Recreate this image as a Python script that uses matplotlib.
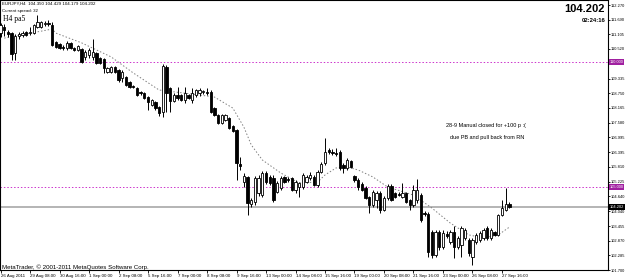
import matplotlib.pyplot as plt

# EURJPY H4 candles, bar 0 = 26 Aug 2011 00:00, last bar = 28 Sep 00:00
opens = [111.15, 111.39, 111.19, 111.15, 110.36, 111.03, 111.07, 111.19, 111.15, 111.15,
         111.39, 111.39, 111.51, 111.55, 111.47, 110.80, 110.72, 110.60, 110.56, 110.76,
         110.56, 110.48, 110.52, 110.20, 110.28, 110.20, 110.36, 110.16, 110.12, 109.60,
         109.60, 109.80, 109.68, 109.36, 109.40, 109.20, 109.04, 108.96, 108.80, 108.76,
         108.60, 108.28, 108.40, 108.20, 108.00, 109.80, 108.96, 108.44, 108.68, 108.68,
         108.48, 108.68, 108.48, 108.68, 108.76, 108.80, 108.80, 108.80, 108.16, 107.88,
         107.56, 107.68, 107.76, 107.44, 107.28, 105.93, 105.21, 105.41, 104.33, 104.41,
         104.77, 104.69, 105.57, 105.41, 105.37, 104.81, 104.97, 105.41, 105.33, 105.37,
         104.89, 105.01, 105.01, 105.21, 105.37, 105.41, 105.09, 105.61, 105.97, 106.49,
         106.41, 106.37, 106.41, 105.89, 105.77, 106.05, 105.45, 105.29, 105.13, 104.97,
         104.61, 104.29, 104.49, 104.77, 104.09, 104.57, 105.05, 104.77, 104.73, 104.61,
         104.77, 104.49, 104.29, 104.49, 104.69, 103.97, 103.93, 103.22, 102.30, 103.22,
         102.62, 103.14, 102.82, 103.22, 102.62, 102.70, 102.98, 102.90, 102.22, 102.82,
         102.90, 102.98, 103.37, 102.98, 103.22, 103.10, 103.89, 104.09, 104.350]
highs = [111.55, 111.51, 111.27, 111.19, 111.11, 111.19, 111.23, 111.23, 111.39, 111.51,
         111.87, 111.63, 111.63, 111.67, 111.59, 110.83, 110.76, 110.68, 110.83, 110.80,
         110.60, 110.68, 110.56, 110.48, 110.56, 110.91, 110.40, 110.20, 110.16, 109.80,
         109.84, 109.84, 109.72, 109.68, 109.44, 109.24, 109.08, 109.00, 108.84, 108.80,
         108.64, 108.52, 108.44, 108.24, 109.92, 109.88, 109.00, 108.76, 109.00, 108.72,
         109.00, 108.72, 108.96, 108.92, 108.96, 108.88, 108.96, 108.88, 108.20, 107.92,
         107.92, 107.92, 107.80, 107.48, 107.32, 106.21, 105.57, 105.45, 104.57, 105.45,
         105.49, 105.65, 105.65, 105.49, 105.49, 105.25, 105.45, 105.45, 105.41, 105.41,
         105.29, 105.21, 105.57, 105.49, 105.61, 105.49, 105.69, 106.01, 106.97, 106.57,
         106.53, 106.57, 106.49, 105.97, 106.17, 106.09, 105.49, 105.37, 105.21, 105.05,
         104.65, 104.89, 104.85, 104.85, 104.65, 105.13, 105.13, 104.81, 104.81, 105.17,
         104.81, 104.53, 105.09, 105.33, 104.77, 104.05, 104.01, 103.29, 103.29, 103.29,
         103.29, 103.25, 103.29, 103.45, 103.06, 103.45, 103.37, 102.98, 102.98, 103.18,
         103.25, 103.37, 103.45, 103.37, 103.25, 103.93, 104.49, 104.97, 104.429]
lows = [110.99, 111.03, 110.99, 110.08, 110.08, 110.91, 110.99, 111.03, 111.07, 111.11,
        111.35, 111.35, 111.43, 111.43, 110.64, 110.56, 110.52, 110.48, 110.48, 110.52,
        110.44, 110.44, 109.96, 110.08, 110.16, 110.08, 109.92, 109.92, 109.56, 109.56,
        109.56, 109.56, 109.20, 109.20, 109.04, 108.96, 108.96, 108.64, 108.68, 108.52,
        108.08, 108.24, 108.08, 107.84, 107.80, 108.00, 108.00, 108.40, 108.48, 108.44,
        108.36, 108.52, 108.36, 108.60, 108.64, 108.72, 108.68, 107.96, 107.84, 107.52,
        107.52, 107.64, 107.32, 107.20, 105.29, 105.69, 105.01, 103.89, 104.21, 104.29,
        104.65, 104.61, 105.13, 105.09, 104.41, 104.77, 104.89, 105.17, 105.21, 104.85,
        104.77, 104.61, 104.93, 105.17, 105.29, 105.05, 105.01, 105.57, 105.89, 106.33,
        106.29, 106.25, 105.69, 105.57, 105.69, 105.77, 105.21, 104.89, 104.85, 104.53,
        103.97, 104.21, 104.17, 103.97, 104.05, 104.49, 104.45, 104.57, 104.65, 104.57,
        104.37, 104.09, 104.21, 104.37, 103.61, 103.85, 102.22, 102.18, 102.22, 102.50,
        102.54, 102.98, 102.74, 102.18, 102.54, 102.22, 102.90, 102.26, 101.90, 102.74,
        102.82, 102.90, 102.90, 102.90, 103.06, 103.06, 103.85, 104.05, 104.179]
closes = [111.47, 111.27, 111.11, 110.32, 111.03, 111.11, 111.15, 111.07, 111.19, 111.47,
          111.59, 111.59, 111.55, 111.51, 110.68, 110.60, 110.56, 110.56, 110.76, 110.56,
          110.48, 110.64, 110.00, 110.40, 110.48, 110.40, 109.96, 109.96, 109.76, 109.76,
          109.80, 109.60, 109.28, 109.60, 109.08, 109.00, 109.00, 108.68, 108.76, 108.56,
          108.40, 108.48, 108.16, 107.96, 109.84, 108.76, 108.44, 108.68, 108.56, 108.48,
          108.76, 108.56, 108.76, 108.88, 108.88, 108.84, 108.78, 108.00, 107.88, 107.56,
          107.88, 107.88, 107.36, 107.24, 105.97, 105.85, 105.45, 104.37, 104.49, 105.37,
          105.37, 105.57, 105.21, 105.17, 104.49, 105.17, 105.37, 105.21, 105.29, 104.89,
          105.21, 105.17, 105.49, 105.41, 105.49, 105.09, 105.61, 105.93, 106.41, 106.41,
          106.37, 106.33, 105.77, 105.77, 106.09, 105.81, 105.29, 105.01, 104.89, 104.57,
          104.29, 104.81, 104.77, 104.09, 104.57, 105.05, 104.49, 104.61, 104.69, 104.77,
          104.41, 104.29, 104.89, 104.89, 103.69, 103.93, 102.42, 102.30, 103.22, 102.62,
          103.18, 103.06, 103.22, 102.62, 102.98, 103.37, 103.29, 102.38, 102.90, 103.10,
          103.18, 103.29, 102.98, 103.29, 103.10, 103.89, 104.17, 104.33, 104.202]

# moving average (dotted), read at some bars
ma_bars = [1, 14, 15, 22, 30, 36, 43, 54, 58, 63, 66, 68, 71, 76, 81, 86, 88, 91, 94,
           97, 101, 105, 112, 117, 122, 127, 131, 135, 138]
ma_vals = [110.95, 111.31, 111.15, 110.76, 110.20, 109.56, 108.88, 108.68, 108.60, 108.16,
           107.40, 106.69, 106.09, 105.57, 105.17, 105.21, 105.49, 105.77, 105.81, 105.69,
           105.41, 105.01, 104.69, 104.17, 103.57, 103.10, 102.98, 103.10, 103.41]

time_ticks = list(range(0, 137, 8))
time_labels = ['26 Aug 2011', '29 Aug 08:00', '30 Aug 16:00', '1 Sep 00:00', '2 Sep 08:00',
               '5 Sep 16:00', '7 Sep 00:00', '8 Sep 08:00', '9 Sep 16:00', '13 Sep 00:00',
               '14 Sep 08:00', '15 Sep 16:00', '19 Sep 00:00', '20 Sep 08:00', '21 Sep 16:00',
               '23 Sep 00:00', '26 Sep 08:00', '27 Sep 16:00']
# 109.935 sits under the 110.000 box, so it is left out
price_ticks = [101.700, 102.285, 102.870, 103.455, 104.040, 104.640, 105.225, 105.810,
               106.395, 106.995, 107.580, 108.165, 108.750, 109.335, 110.520,
               111.105, 111.690, 112.270]
round_levels = [110.000, 105.000]
bid = 104.202

plt.rcParams['font.family'] = ['Liberation Sans', 'DejaVu Sans']

fig = plt.figure(figsize=(6.25, 2.79), dpi=100)
ax = fig.add_axes([0, 9 / 279, 608 / 625, 270 / 279])

x = list(range(len(closes)))
ax.vlines(x, lows, highs, color='black', lw=0.7, zorder=3)
bottoms = [min(o, c) for o, c in zip(opens, closes)]
heights = [max(abs(c - o), 0.015) for o, c in zip(opens, closes)]
colors = ['white' if c >= o else 'black' for o, c in zip(opens, closes)]
ax.bar(x, heights, bottom=bottoms, width=0.62, color=colors, edgecolor='black',
       linewidth=0.6, zorder=4)

ax.plot(ma_bars, ma_vals, color='#808080', linestyle=(0, (1.5, 2)), lw=0.7, zorder=2)

for lvl in round_levels:
    ax.axhline(lvl, color='#cc33cc', linestyle=(0, (1.5, 2)), lw=0.7, zorder=1)
    ax.annotate(f'{lvl:.3f}', xy=(1, lvl), xycoords=('axes fraction', 'data'),
                xytext=(1.2, 0), textcoords='offset points', ha='left', va='center',
                fontsize=2.9, color='white', annotation_clip=False, zorder=10,
                bbox=dict(boxstyle='square,pad=0.2', fc='#a020a0', ec='none'))
ax.axhline(bid, color='#a8a8a8', lw=1.2, zorder=1)
ax.annotate(f'{bid:.3f}', xy=(1, bid), xycoords=('axes fraction', 'data'),
            xytext=(1.2, 0), textcoords='offset points', ha='left', va='center',
            fontsize=2.9, color='white', annotation_clip=False, zorder=10,
            bbox=dict(boxstyle='square,pad=0.2', fc='black', ec='none'))

ax.set_xlim(-0.14, 164.75)
ax.set_ylim(101.70, 112.47)

ax.yaxis.tick_right()
ax.set_yticks(price_ticks)
ax.set_yticklabels([f'{p:.3f}' for p in price_ticks])
ax.tick_params(axis='y', length=1.5, width=0.6, pad=0.4, labelsize=2.9)
ax.set_xticks(time_ticks)
ax.set_xticklabels(time_labels, ha='left')
ax.tick_params(axis='x', length=2, width=0.6, pad=1, labelsize=3.2)
for s in ax.spines.values():
    s.set_linewidth(0.8)

ax.text(120.8, 107.48, '28-9 Manual closed for +100 p :(', fontsize=4, va='center', ha='left')
ax.text(121.9, 107.00, 'due PB and pull back from RN', fontsize=4, va='center', ha='left')

fig.text(2 / 625, 1 - 4 / 279, 'EURJPY,H4  104.350 104.429 104.179 104.202',
         fontsize=3.2, va='center', ha='left')
fig.text(2 / 625, 1 - 11 / 279, 'Current spread: 32', fontsize=3.2, va='center', ha='left')
fig.text(3 / 625, 1 - 19 / 279, 'H4 pa5', fontsize=5.5, family='Liberation Serif',
         va='center', ha='left')
fig.text(605 / 625, 1 - 9 / 279, '104.202', fontsize=8, fontweight='bold',
         va='center', ha='right')
fig.text(605 / 625, 1 - 20 / 279, '02:24:16', fontsize=4.2, fontweight='bold',
         va='center', ha='right')
fig.text(2 / 625, 1 - 267 / 279, 'MetaTrader, \u00a9 2001-2011 MetaQuotes Software Corp.',
         fontsize=4.4, va='center', ha='left')

fig.savefig('out.png', dpi=100)
